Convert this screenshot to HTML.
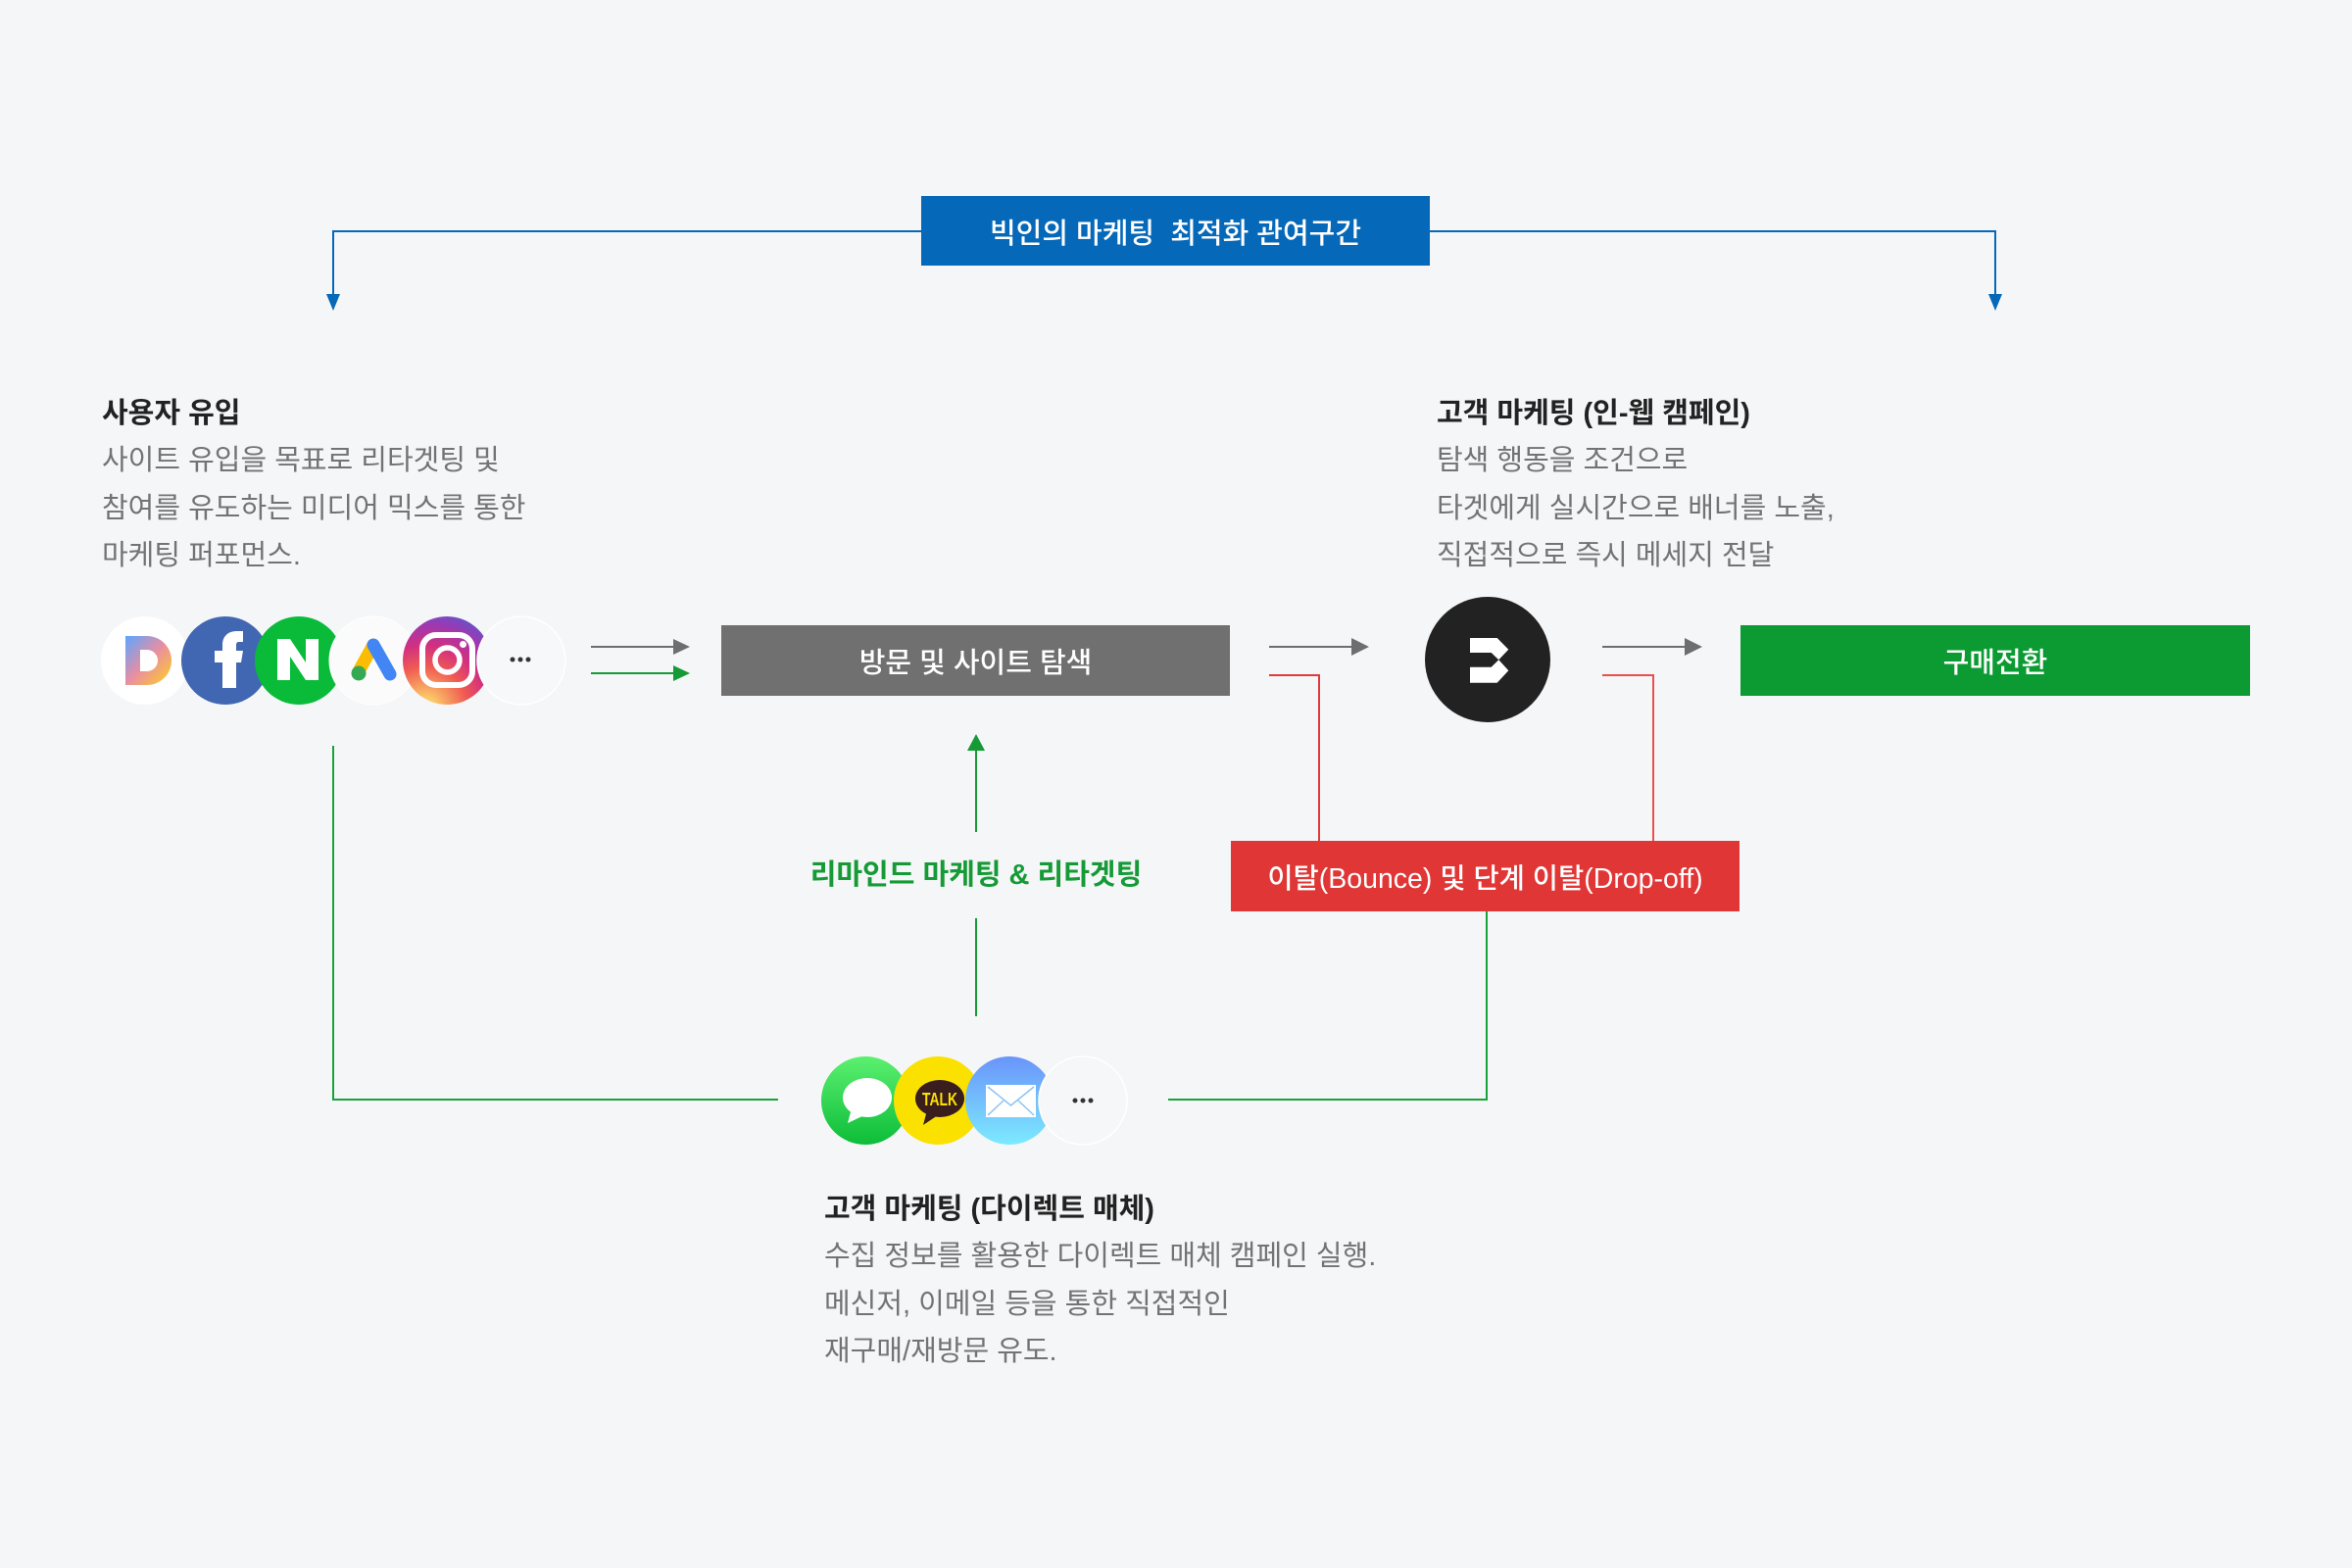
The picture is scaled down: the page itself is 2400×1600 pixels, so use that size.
<!DOCTYPE html>
<html><head><meta charset="utf-8">
<style>
html,body{margin:0;padding:0;}
body{width:2400px;height:1600px;background:#f5f6f8;position:relative;overflow:hidden;font-family:"Liberation Sans","Noto Sans CJK KR",sans-serif;}
svg{position:absolute;left:0;top:0;}
.box{position:absolute;display:flex;align-items:center;justify-content:center;color:#fff;font-size:29px;font-weight:500;white-space:nowrap;}
.blk{position:absolute;font-size:29px;line-height:48.5px;color:#737373;white-space:nowrap;}
.blk b{color:#222;font-weight:700;display:block;}
.lbl{position:absolute;font-size:29px;font-weight:700;color:#159a35;white-space:nowrap;line-height:40px;}
</style></head>
<body>
<svg width="2400" height="1600" viewBox="0 0 2400 1600">
<defs>
<linearGradient id="dg" x1="0" y1="0" x2="1" y2="1">
<stop offset="0" stop-color="#5aa6ff"/><stop offset="0.5" stop-color="#e98ea2"/><stop offset="1" stop-color="#ffd21c"/>
</linearGradient>
<radialGradient id="ig" cx="0.25" cy="1.05" r="1.2">
<stop offset="0" stop-color="#fdf497"/><stop offset="0.08" stop-color="#fdd36a"/><stop offset="0.4" stop-color="#f05b52"/><stop offset="0.6" stop-color="#d2307f"/><stop offset="0.8" stop-color="#9d39b0"/><stop offset="1" stop-color="#4f5bd5"/>
</radialGradient>
<linearGradient id="mg" x1="0" y1="0" x2="0" y2="1">
<stop offset="0" stop-color="#5cf070"/><stop offset="1" stop-color="#0cbd38"/>
</linearGradient>
<linearGradient id="eg" x1="0" y1="0" x2="0" y2="1">
<stop offset="0" stop-color="#6a94fa"/><stop offset="1" stop-color="#7ceaff"/>
</linearGradient>
</defs>

<!-- blue top connector -->
<polyline points="340,302 340,236 940,236" fill="none" stroke="#0568b8" stroke-width="2"/>
<polyline points="1459,236 2036,236 2036,302" fill="none" stroke="#0568b8" stroke-width="2"/>
<polygon points="333,300 347,300 340,317" fill="#0568b8"/>
<polygon points="2029,300 2043,300 2036,317" fill="#0568b8"/>
<rect x="940" y="200" width="519" height="71" fill="#0568b8"/>

<!-- top boxes -->
<rect x="736" y="638" width="519" height="72" fill="#707070"/>
<rect x="1776" y="638" width="520" height="72" fill="#0c9a32"/>
<rect x="1256" y="858" width="519" height="72" fill="#e03636"/>

<!-- gray arrows -->
<line x1="603" y1="660" x2="690" y2="660" stroke="#6e6e6e" stroke-width="2"/>
<polygon points="687,652 704,660 687,668" fill="#6e6e6e"/>
<line x1="603" y1="687" x2="690" y2="687" stroke="#159a35" stroke-width="2"/>
<polygon points="687,679 704,687 687,695" fill="#159a35"/>

<line x1="1295" y1="660" x2="1382" y2="660" stroke="#6e6e6e" stroke-width="2"/>
<polygon points="1379,651 1397,660 1379,669" fill="#6e6e6e"/>
<line x1="1635" y1="660" x2="1722" y2="660" stroke="#6e6e6e" stroke-width="2"/>
<polygon points="1719,651 1737,660 1719,669" fill="#6e6e6e"/>

<!-- red connectors -->
<polyline points="1295,689 1346,689 1346,858" fill="none" stroke="#e03a3a" stroke-width="2"/>
<polyline points="1635,689 1687,689 1687,858" fill="none" stroke="#e85050" stroke-width="2"/>

<!-- green connectors -->
<line x1="996" y1="849" x2="996" y2="764" stroke="#159a35" stroke-width="2"/>
<polygon points="987,766 1005,766 996,749" fill="#159a35"/>
<line x1="996" y1="937" x2="996" y2="1037" stroke="#159a35" stroke-width="2"/>
<polyline points="340,761 340,1122 794,1122" fill="none" stroke="#1aa23a" stroke-width="2"/>
<polyline points="1192,1122 1517,1122 1517,930" fill="none" stroke="#1aa23a" stroke-width="2"/>

<!-- B logo -->
<circle cx="1518" cy="673" r="64" fill="#222"/>
<polygon points="1500,651 1527.7,651 1539.3,662.7 1529.3,673.3 1539.3,684.3 1527.7,696.7 1500,696.7 1500,680.7 1521.7,680.7 1529.3,673.3 1521.7,666 1500,666" fill="#fff"/>

<!-- top icons row -->
<circle cx="148" cy="674" r="45" fill="#ffffff"/>
<path d="M128,649 H150 A25,25 0 0 1 150,699 H128 Z M143,663 V685 H150 A11,11 0 0 0 150,663 Z" fill="url(#dg)" fill-rule="evenodd"/>

<circle cx="230" cy="674" r="45" fill="#4267b2"/>
<path d="M227,702 V676 H219 V664 H227 V658 C227,649 233,644 242,644 H248 V655 H244 C242,655 241,656 241,658 V664 H248 L246,676 H241 V702 Z" fill="#fff"/>

<circle cx="305" cy="674" r="45" fill="#0abb3a"/>
<path d="M283,652 H296 L312,676 V652 H325 V694 H312 L296,670 V694 H283 Z" fill="#fff"/>

<circle cx="381" cy="674" r="45" fill="#fbfbfc" stroke="#ffffff" stroke-width="1"/>
<line x1="381" y1="658" x2="366" y2="685" stroke="#fbbc04" stroke-width="13" stroke-linecap="round"/>
<line x1="381" y1="658" x2="398" y2="688" stroke="#4285f4" stroke-width="13" stroke-linecap="round"/>
<circle cx="366" cy="687" r="7.5" fill="#34a853"/>

<circle cx="456" cy="674" r="45" fill="url(#ig)"/>
<rect x="431" y="648" width="51" height="51" rx="14" fill="none" stroke="#fff" stroke-width="6"/>
<circle cx="456.5" cy="673.5" r="12.5" fill="none" stroke="#fff" stroke-width="5.5"/>
<circle cx="472.5" cy="657.5" r="3.5" fill="#fff"/>

<circle cx="532" cy="674" r="45" fill="#f7f8fa" stroke="#ffffff" stroke-width="1.5"/>
<circle cx="523" cy="673" r="2.5" fill="#333"/>
<circle cx="531" cy="673" r="2.5" fill="#333"/>
<circle cx="539" cy="673" r="2.5" fill="#333"/>

<!-- bottom icons row -->
<circle cx="883" cy="1123" r="45" fill="url(#mg)"/>
<ellipse cx="885" cy="1120" rx="25" ry="20" fill="#fff"/>
<path d="M869,1131 L865,1146 L882,1138 Z" fill="#fff"/>

<circle cx="957" cy="1123" r="45" fill="#fae100"/>
<ellipse cx="959" cy="1121" rx="25" ry="19" fill="#3a1d1d"/>
<path d="M946,1133 L942,1148 L957,1138 Z" fill="#3a1d1d"/>
<text x="959" y="1128" font-family="Liberation Sans, sans-serif" font-weight="700" font-size="18" fill="#fae100" text-anchor="middle" textLength="36" lengthAdjust="spacingAndGlyphs">TALK</text>

<circle cx="1030" cy="1123" r="45" fill="url(#eg)"/>
<rect x="1006" y="1107" width="51" height="33" fill="#fff"/>
<polyline points="1008,1109 1031.5,1128 1055,1109" fill="none" stroke="#8cc4f3" stroke-width="1.5"/>
<line x1="1008" y1="1138" x2="1024" y2="1123" stroke="#8cc4f3" stroke-width="1.5"/>
<line x1="1055" y1="1138" x2="1039" y2="1123" stroke="#8cc4f3" stroke-width="1.5"/>

<circle cx="1105" cy="1123" r="45" fill="#f6f7f9" stroke="#ffffff" stroke-width="1.5"/>
<circle cx="1097" cy="1123" r="2.5" fill="#333"/>
<circle cx="1105" cy="1123" r="2.5" fill="#333"/>
<circle cx="1113" cy="1123" r="2.5" fill="#333"/>
</svg>

<div class="box" style="left:940px;top:200px;width:519px;height:71px;">빅인의 마케팅&nbsp; 최적화 관여구간</div>
<div class="box" style="left:736px;top:638px;width:519px;height:72px;">방문 및 사이트 탐색</div>
<div class="box" style="left:1776px;top:638px;width:520px;height:72px;">구매전환</div>
<div class="box" style="left:1256px;top:858px;width:519px;height:72px;font-size:28.5px;">이탈(Bounce) 및 단계 이탈(Drop-off)</div>

<div class="lbl" style="left:796px;top:873px;width:400px;text-align:center;">리마인드 마케팅 &amp; 리타겟팅</div>

<div class="blk" style="left:104px;top:397.5px;"><b>사용자 유입</b>사이트 유입을 목표로 리타겟팅 및<br>참여를 유도하는 미디어 믹스를 통한<br>마케팅 퍼포먼스.</div>

<div class="blk" style="left:1466px;top:397.5px;"><b>고객 마케팅 (인-웹 캠페인)</b>탐색 행동을 조건으로<br>타겟에게 실시간으로 배너를 노출,<br>직접적으로 즉시 메세지 전달</div>

<div class="blk" style="left:841px;top:1209.5px;"><b>고객 마케팅 (다이렉트 매체)</b>수집 정보를 활용한 다이렉트 매체 캠페인 실행.<br>메신저, 이메일 등을 통한 직접적인<br>재구매/재방문 유도.</div>
</body></html>
